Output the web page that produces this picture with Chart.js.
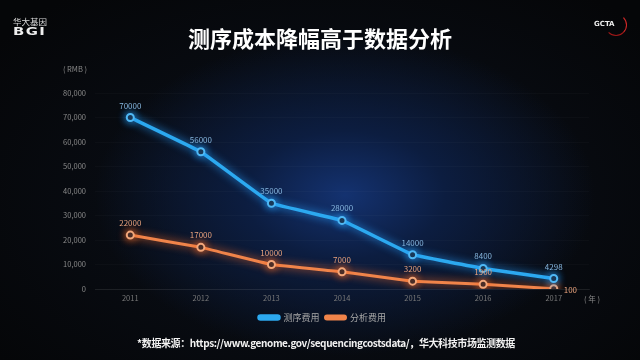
<!DOCTYPE html>
<html lang="zh">
<head>
<meta charset="utf-8">
<title>测序成本降幅高于数据分析</title>
<script src="https://cdn.jsdelivr.net/npm/chart.js@4"></script>
<style>
    html, body { margin: 0; padding: 0; background: #000; }
    #stage {
        position: relative; width: 640px; height: 360px; overflow: hidden;
        background:
            radial-gradient(ellipse 250px 160px at 345px 195px, #143270 0%, #0c1d40 40%, rgba(8,12,22,0) 100%),
            radial-gradient(ellipse 420px 260px at 330px 200px, #0b111c 0%, #050608 100%);
        font-family: "Noto Sans CJK SC", "Noto Sans", sans-serif;
    }
    #chart { position: absolute; left: 0; top: 0; }
    .txt { position: absolute; white-space: nowrap; }
    #title { left: 0; width: 640px; top: 21px; text-align: center; color: #fff; font-size: 22px; font-weight: bold; }
    #source { left: 0; width: 652px; top: 335px; text-align: center; color: #f2f2f2; font-size: 10px; font-weight: bold; letter-spacing: -0.4px; }
    #bgi1 { left: 13px; top: 15px; color: #ddd; font-size: 8.5px; }
    #bgi2 { left: 13px; top: 25px; color: #eee; font-size: 11px; font-weight: bold; font-family: "DejaVu Sans", sans-serif; letter-spacing: 1px; transform: scaleX(1.35); transform-origin: left; }
    #gcta { left: 594px; top: 20px; color: #eee; font-size: 7px; font-weight: bold; font-family: "DejaVu Sans", sans-serif; }
    #ring { position: absolute; left: 605px; top: 14px; width: 20px; height: 20px; border-radius: 50%;
            border: 1.5px solid transparent; border-right-color: #d62828; border-bottom-color: #a01818; }
</style>
</head>
<body>
<div id="stage">
    <canvas id="chart" width="640" height="360"></canvas>
    <div class="txt" id="title">测序成本降幅高于数据分析</div>
    <div class="txt" id="bgi1">华大基因</div>
    <div class="txt" id="bgi2">BGI</div>
    <div id="ring"></div>
    <div class="txt" id="gcta">GCTA</div>
    <div class="txt" id="source">*数据来源：https://www.genome.gov/sequencingcostsdata/，华大科技市场监测数据</div>
</div>
<script>
// ---------- 数据 ----------
const years = ['2011', '2012', '2013', '2014', '2015', '2016', '2017'];
const seqCost = [70000, 56000, 35000, 28000, 14000, 8400, 4298];   // 测序费用
const anaCost = [22000, 17000, 10000, 7000, 3200, 1900, 100];      // 分析费用
const seriesNames = ['测序费用', '分析费用'];
const yMin = 0, yMax = 80000, yStep = 10000;
const yUnit = '( RMB )';
const xUnit = '( 年 )';

// ---------- 颜色 ----------
const lineColors = ['#2ca9f0', '#f0844a'];
const glowColors = ['rgba(40,160,255,0.9)', 'rgba(255,110,40,0.9)'];
const pointColors = ['#4fb8f5', '#f3a77a'];
const labelColors = ['#86b6de', '#e9a27c'];

Chart.defaults.font.family = '"Noto Sans CJK SC", "Noto Sans", sans-serif';

// 线条发光效果
const glowPlugin = {
    id: 'glow',
    beforeDatasetDraw(chart, args) {
        const ctx = chart.ctx;
        ctx.save();
        ctx.shadowColor = glowColors[args.index];
        ctx.shadowBlur = 9;
    },
    afterDatasetDraw(chart) {
        chart.ctx.restore();
    }
};

// 数值标签 + 单位
const labelPlugin = {
    id: 'valueLabels',
    afterDatasetsDraw(chart) {
        const ctx = chart.ctx;
        ctx.save();
        ctx.font = '8px "Noto Sans CJK SC", sans-serif';
        ctx.textBaseline = 'middle';
        chart.data.datasets.forEach((ds, i) => {
            const meta = chart.getDatasetMeta(i);
            ctx.fillStyle = labelColors[i];
            meta.data.forEach((pt, j) => {
                const last = i === 1 && j === ds.data.length - 1;
                ctx.textAlign = last ? 'left' : 'center';
                ctx.fillText(String(ds.data[j]), last ? pt.x + 10 : pt.x, last ? pt.y + 1 : pt.y - 12);
            });
        });
        // 单位
        ctx.fillStyle = '#8a8a8a';
        ctx.textAlign = 'center';
        ctx.font = '7.5px "Noto Sans CJK SC", sans-serif';
        ctx.fillText(yUnit, 75, 69);
        ctx.fillText(xUnit, 592, 299);
        ctx.restore();
    }
};

new Chart(document.getElementById('chart'), {
    type: 'line',
    data: {
        labels: years,
        datasets: [seqCost, anaCost].map((arr, i) => ({
            label: seriesNames[i],
            data: arr,
            borderColor: lineColors[i],
            backgroundColor: lineColors[i],
            borderWidth: i === 0 ? 3.5 : 3,
            borderCapStyle: 'round',
            borderJoinStyle: 'round',
            tension: 0.05,
            pointRadius: 3.5,
            pointBorderWidth: 2,
            pointBorderColor: pointColors[i],
            pointBackgroundColor: '#151a26'
        }))
    },
    options: {
        responsive: false,
        animation: false,
        layout: { padding: { top: 93, right: 51, bottom: 28, left: 56 } },
        plugins: {
            tooltip: { enabled: false },
            legend: {
                position: 'bottom',
                labels: {
                    color: '#a9a9a9',
                    font: { size: 9 },
                    boxWidth: 20,
                    boxHeight: 3,
                    padding: 6,
                    useBorderRadius: true,
                    borderRadius: 1.5
                }
            }
        },
        scales: {
            x: {
                offset: true,
                grid: { display: false, tickLength: 0 },
                border: { color: 'rgba(255,255,255,0.07)' },
                ticks: { color: '#7a7a7a', font: { size: 7.5 }, padding: 5 },
                afterFit(scale) { scale.height = 18; }
            },
            y: {
                min: yMin,
                max: yMax,
                grid: { color: 'rgba(255,255,255,0.022)', drawTicks: false },
                border: { display: false },
                ticks: {
                    stepSize: yStep,
                    color: '#8a8a8a',
                    font: { size: 7.5 },
                    padding: 9,
                    callback: v => v.toLocaleString('en-US')
                },
                afterFit(scale) { scale.width = 39; }
            }
        }
    },
    plugins: [glowPlugin, labelPlugin]
});
</script>
</body>
</html>
